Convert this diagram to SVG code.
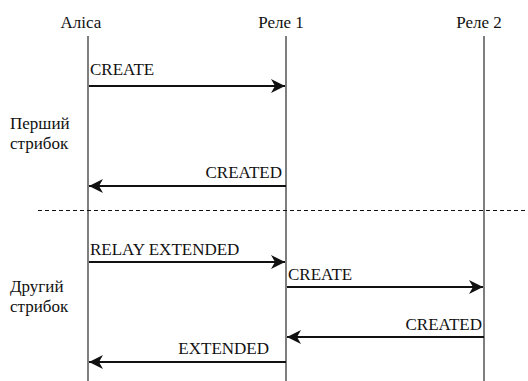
<svg xmlns="http://www.w3.org/2000/svg" width="528" height="381" viewBox="0 0 528 381" font-family="Liberation Serif, DejaVu Serif, Noto Serif, serif" font-size="17">
  <style>
    text { fill: #111; }
    .life { stroke: #3a3a3a; stroke-width: 1.3; fill: none; }
    .msg { stroke: #111; stroke-width: 2.2; fill: none; marker-end: url(#arrow); }
    .sep { stroke: #111; stroke-width: 1; stroke-dasharray: 4 3; fill: none; }
  </style>
  <defs>
    <marker id="arrow" markerUnits="userSpaceOnUse" markerWidth="16" markerHeight="16" viewBox="-15 -8 16 16" refX="0" refY="0" orient="auto">
      <path d="M0,0 L-14,-7 L-10,0 L-14,7 Z" fill="#111"/>
    </marker>
  </defs>
  <rect width="528" height="381" fill="#fff"/>

  <!-- participants and lifelines -->
  <g id="alice">
    <text x="81" y="28" text-anchor="middle">Аліса</text>
    <line class="life" x1="88" y1="36" x2="88" y2="381"/>
  </g>
  <g id="relay1">
    <text x="281" y="28" text-anchor="middle">Реле 1</text>
    <line class="life" x1="286" y1="36" x2="286" y2="381"/>
  </g>
  <g id="relay2">
    <text x="479" y="28" text-anchor="middle">Реле 2</text>
    <line class="life" x1="484" y1="36" x2="484" y2="381"/>
  </g>

  <!-- phase labels -->
  <g id="hop1">
    <text x="10" y="129">Перший</text>
    <text x="10" y="149">стрибок</text>
  </g>
  <g id="hop2">
    <text x="10" y="292">Другий</text>
    <text x="10" y="312">стрибок</text>
  </g>

  <!-- messages -->
  <g id="connectors">
    <line class="sep" x1="38" y1="210.5" x2="528" y2="210.5"/>
    <line class="msg" x1="89" y1="86" x2="285" y2="86"/>
    <line class="msg" x1="286" y1="186" x2="89" y2="186"/>
    <line class="msg" x1="89" y1="262" x2="285" y2="262"/>
    <line class="msg" x1="287" y1="287" x2="483" y2="287"/>
    <line class="msg" x1="484" y1="337" x2="287" y2="337"/>
    <line class="msg" x1="286" y1="362" x2="89" y2="362"/>
  </g>

  <!-- message labels -->
  <g id="labels">
    <text x="90" y="75">CREATE</text>
    <text x="282" y="178" text-anchor="end">CREATED</text>
    <text x="90" y="255">RELAY EXTENDED</text>
    <text x="288" y="280">CREATE</text>
    <text x="482" y="330" text-anchor="end">CREATED</text>
    <text x="269" y="354" text-anchor="end">EXTENDED</text>
  </g>
</svg>
